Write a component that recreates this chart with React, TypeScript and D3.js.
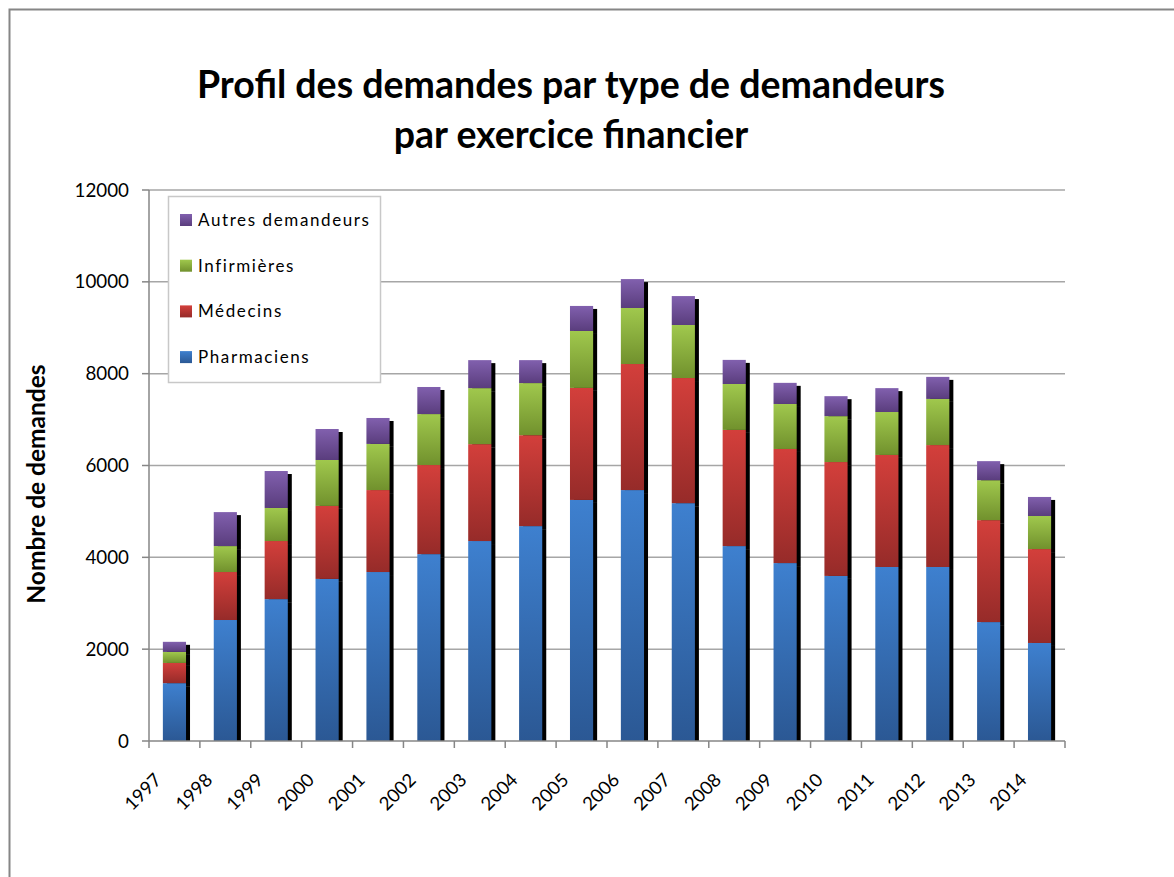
import React from "react";
import * as d3 from "d3";

const years = ["1997","1998","1999","2000","2001","2002","2003","2004","2005","2006","2007","2008","2009","2010","2011","2012","2013","2014"];
const pharmaciens = [1260,2635,3090,3530,3680,4070,4355,4680,5250,5465,5180,4245,3875,3595,3790,3790,2590,2135];
const medecins = [440,1045,1265,1590,1785,1940,2110,1980,2440,2745,2725,2530,2485,2480,2440,2655,2220,2045];
const infirmieres = [240,565,720,1000,1005,1110,1220,1135,1240,1220,1155,1000,980,1000,935,1005,870,720];
const autres = [220,740,805,675,565,590,610,500,545,630,630,525,460,435,520,480,415,415];
const seriesNames = ["Pharmaciens","Médecins","Infirmières","Autres demandeurs"];
const yTicks = [0,2000,4000,6000,8000,10000,12000];

const gradients = [
  { id: "gBlue", top: "#3E80CF", bottom: "#2B5894" },
  { id: "gRed", top: "#D33F3B", bottom: "#962B29" },
  { id: "gGreen", top: "#A0C84D", bottom: "#71912D" },
  { id: "gPurple", top: "#8160AE", bottom: "#5A3D7D" },
];

const FONT = "Lato, 'Open Sans', sans-serif";

export default function App() {
  const W = 1174, H = 877;
  const left = 149, right = 1065, top = 190, bottom = 741;
  const x = d3.scaleBand().domain(years).range([left, right]).paddingInner(0.545).paddingOuter(0.2725);
  const y = d3.scaleLinear().domain([0, 12000]).range([bottom, top]);
  const values = [pharmaciens, medecins, infirmieres, autres];
  const table = years.map((yr, i) => {
    const o: any = { year: yr };
    seriesNames.forEach((s, k) => (o[s] = values[k][i]));
    return o;
  });
  const stack = d3.stack<any>().keys(seriesNames)(table);
  const bw = x.bandwidth();
  const step = (right - left) / years.length;
  const legendOrder = [3, 2, 1, 0];

  return (
    <svg width={W} height={H} style={{ display: "block", position: "absolute", left: 0, top: 0 }}>
      <defs>
        {gradients.map((g) => (
          <linearGradient key={g.id} id={g.id} x1="0" y1="0" x2="0" y2="1">
            <stop offset="0" stopColor={g.top} />
            <stop offset="1" stopColor={g.bottom} />
          </linearGradient>
        ))}
      </defs>
      <rect x={0} y={0} width={W} height={H} fill="#fff" />
      <path d={`M9.5,${H + 5} V9.5 H${W + 5}`} fill="none" stroke="#868686" strokeWidth={2} />
      <text x={571} y={98} textAnchor="middle" fontFamily={FONT} fontWeight="bold" fontSize={37.5} fill="#000">Profil des demandes par type de demandeurs</text>
      <text x={571} y={148} textAnchor="middle" fontFamily={FONT} fontWeight="bold" fontSize={37.5} fill="#000">par exercice financier</text>
      {yTicks.map((t) => (
        <g key={t}>
          {t > 0 && <line x1={left} x2={right} y1={y(t)} y2={y(t)} stroke="#A6A6A6" strokeWidth={1.5} />}
          <line x1={left - 7} x2={left} y1={y(t)} y2={y(t)} stroke="#868686" strokeWidth={1.5} />
          <text x={129} y={y(t)} dy="0.35em" textAnchor="end" fontFamily={FONT} fontSize={18.8} fill="#000">{t}</text>
        </g>
      ))}
      <line x1={left} x2={left} y1={top} y2={bottom} stroke="#868686" strokeWidth={1.5} />
      {stack.map((layer, k) => (
        <g key={"s" + k}>
          {layer.map((d, i) => (
            <rect key={i} x={(x(years[i]) as number) + 4} y={y(d[1]) + 3} width={bw} height={Math.max(0, y(d[0]) - y(d[1]))} fill="#000" />
          ))}
        </g>
      ))}
      {stack.map((layer, k) => (
        <g key={"b" + k}>
          {layer.map((d, i) => (
            <rect key={i} x={x(years[i]) as number} y={y(d[1])} width={bw} height={y(d[0]) - y(d[1])} fill={`url(#${gradients[k].id})`} />
          ))}
        </g>
      ))}
      <rect x={left} y={bottom} width={right - left + 6} height={6} fill="#fff" />
      <line x1={left} x2={right} y1={bottom} y2={bottom} stroke="#868686" strokeWidth={1.5} />
      {d3.range(years.length + 1).map((i) => (
        <line key={i} x1={left + i * step} x2={left + i * step} y1={bottom} y2={bottom + 7} stroke="#868686" strokeWidth={1.5} />
      ))}
      {years.map((yr) => {
        const cx = (x(yr) as number) + bw / 2 - 21;
        const cy = bottom + 31;
        return (
          <text key={yr} transform={`translate(${cx},${cy}) rotate(-45)`} textAnchor="end" dy="0.7em" fontFamily={FONT} fontSize={18.5} fill="#000">{yr}</text>
        );
      })}
      <text transform={`translate(45,484) rotate(-90)`} textAnchor="middle" fontFamily={FONT} fontWeight="bold" fontSize={24.5} fill="#000">Nombre de demandes</text>
      <rect x={168.5} y={196.5} width={212} height={186} fill="#fff" stroke="#C8C8C8" strokeWidth={1.5} />
      {legendOrder.map((k, r) => {
        const cy = 220 + r * 45.7;
        return (
          <g key={k}>
            <rect x={180} y={cy - 6} width={12} height={12} fill={`url(#${gradients[k].id})`} />
            <text x={198} y={cy} dy="0.35em" fontFamily={FONT} fontSize={17} letterSpacing={1.6} fill="#000">{seriesNames[k]}</text>
          </g>
        );
      })}
    </svg>
  );
}
